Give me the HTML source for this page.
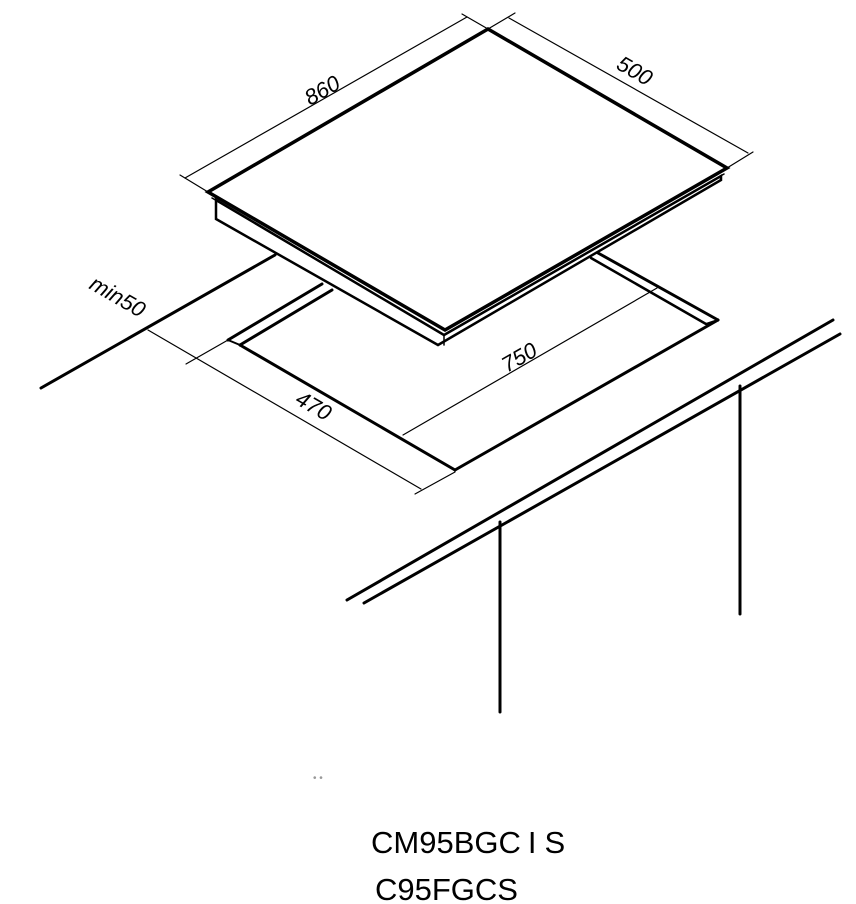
<!DOCTYPE html>
<html><head><style>
html,body{margin:0;padding:0;background:#fff;}
svg{display:block;}
.t{font-family:"Liberation Sans Narrow","Liberation Sans",sans-serif;font-style:italic;font-size:22px;fill:#000;}
</style></head><body>
<svg width="856" height="904" viewBox="0 0 856 904" xmlns="http://www.w3.org/2000/svg">
<g stroke="#000" fill="none" stroke-linecap="round">
<line x1="41" y1="388" x2="275" y2="255" stroke-width="3"/>
<line x1="228" y1="340" x2="322" y2="284" stroke-width="3"/>
<line x1="240" y1="345" x2="332" y2="290" stroke-width="3"/>
<line x1="228" y1="340" x2="240" y2="345" stroke-width="2"/>
<line x1="240" y1="345" x2="455" y2="470" stroke-width="3"/>
<line x1="455" y1="470" x2="718" y2="320" stroke-width="3"/>
<line x1="718" y1="320" x2="598" y2="253" stroke-width="3"/>
<line x1="706" y1="324" x2="591" y2="258" stroke-width="2.5"/>
<line x1="706" y1="324" x2="718" y2="320" stroke-width="2"/>
<polygon points="216,200 216,219 438,345 721,180 721,176 444,335" fill="#fff" stroke-width="2.5"/>
<line x1="444" y1="335" x2="444" y2="345" stroke-width="1.5"/>
<polygon points="488,29 208,192 445,330 727,168" fill="#fff" stroke-width="3.5"/>
<line x1="212" y1="198" x2="442" y2="334" stroke-width="1.5"/>
<line x1="446" y1="334" x2="724" y2="174" stroke-width="1.5"/>
<line x1="185" y1="178" x2="467" y2="17" stroke-width="1.2"/>
<line x1="208" y1="192" x2="180" y2="175" stroke-width="1.2"/>
<line x1="488" y1="29" x2="462" y2="14" stroke-width="1.2"/>
<line x1="509" y1="18" x2="748" y2="153" stroke-width="1.2"/>
<line x1="488" y1="29" x2="515" y2="13" stroke-width="1.2"/>
<line x1="727" y1="168" x2="753" y2="152" stroke-width="1.2"/>
<line x1="148" y1="330" x2="421" y2="489" stroke-width="1.2"/>
<line x1="228" y1="340" x2="186" y2="364" stroke-width="1.2"/>
<line x1="455" y1="472" x2="415" y2="494" stroke-width="1.2"/>
<line x1="403" y1="435" x2="657" y2="288" stroke-width="1.2"/>
<line x1="347" y1="600" x2="833" y2="320" stroke-width="3"/>
<line x1="364" y1="603" x2="840" y2="334" stroke-width="3"/>
<line x1="500" y1="522" x2="500" y2="712" stroke-width="3"/>
<line x1="740" y1="386" x2="740" y2="614" stroke-width="3"/>
</g>
<text class="t" transform="translate(310,106) rotate(-30)">860</text>
<text class="t" transform="translate(615,68) rotate(30)">500</text>
<text class="t" transform="translate(507,373) rotate(-30)">750</text>
<text class="t" transform="translate(294,403) rotate(30)">470</text>
<text class="t" transform="translate(88,288) rotate(30)">min50</text>
<text x="313" y="781" font-family="Liberation Sans,sans-serif" font-size="10" fill="#999">• •</text>
<text x="371" y="853" font-family="Liberation Sans,sans-serif" font-size="31" fill="#000">CM95BGC<tspan dx="7">I</tspan><tspan dx="8">S</tspan></text>
<text x="375" y="900" font-family="Liberation Sans,sans-serif" font-size="31" fill="#000">C95FGCS</text>
</svg>
</body></html>
